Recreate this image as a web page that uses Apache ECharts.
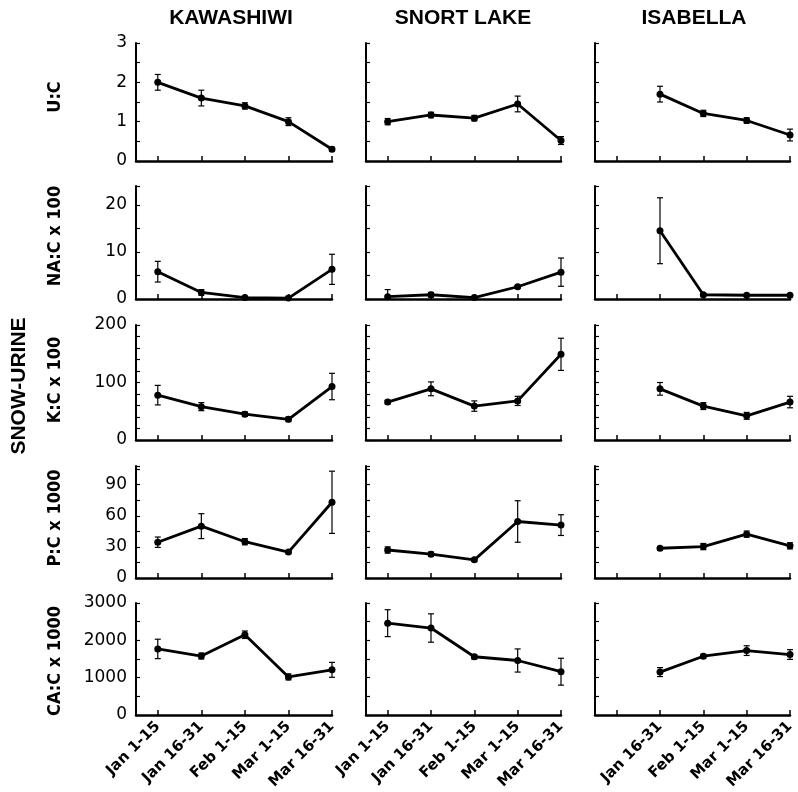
<!DOCTYPE html>
<html><head><meta charset="utf-8">
<script src="https://cdn.jsdelivr.net/npm/echarts@6/dist/echarts.min.js"></script>
<style>html,body{margin:0;padding:0;background:#fff}#c{width:798px;height:792px}</style>
</head><body><div id="c"></div>
<script>
// ---- data ----
const periods = ['Jan 1-15', 'Jan 16-31', 'Feb 1-15', 'Mar 1-15', 'Mar 16-31'];
const sites = ['KAWASHIWI', 'SNORT LAKE', 'ISABELLA'];
const ratios = ['U:C', 'NA:C x 100', 'K:C x 100', 'P:C x 1000', 'CA:C x 1000'];
const sideTitle = 'SNOW-URINE';

const yMax = [3, 24, 200, 108, 3000];
const yTicks = [[0, 0.5, 1, 1.5, 2, 2.5, 3], [0, 5, 10, 15, 20, 24], [0, 20, 40, 60, 80, 100, 120, 140, 160, 180, 200], [0, 15, 30, 45, 60, 75, 90, 105, 108], [0, 500, 1000, 1500, 2000, 2500, 3000]];
const yLabels = [[0, 1, 2, 3], [0, 10, 20], [0, 100, 200], [0, 30, 60, 90], [0, 1000, 2000, 3000]];

// U:C
const kaw_UC = [2.0, 1.6, 1.4, 1.0, 0.3];        const kaw_UC_err = [0.2, 0.2, 0.08, 0.1, 0.05];
const sno_UC = [1.0, 1.17, 1.09, 1.45, 0.52];    const sno_UC_err = [0.08, 0.07, 0.07, 0.2, 0.1];
const isa_UC = [null, 1.7, 1.21, 1.03, 0.66];    const isa_UC_err = [null, 0.2, 0.08, 0.07, 0.15];
// NA:C x 100
const kaw_NA = [5.8, 1.4, 0.3, 0.2, 6.3];        const kaw_NA_err = [2.2, 0.6, 0.2, 0.2, 3.2];
const sno_NA = [0.5, 0.9, 0.3, 2.6, 5.7];        const sno_NA_err = [1.5, 0.5, 0.2, 0.3, 3.0];
const isa_NA = [null, 14.5, 0.9, 0.8, 0.8];      const isa_NA_err = [null, 7.0, 0.3, 0.2, 0.2];
// K:C x 100
const kaw_K = [78, 58, 45, 36, 93];              const kaw_K_err = [17, 7, 4, 4, 23];
const sno_K = [66, 89, 59, 68, 149];             const sno_K_err = [3, 12, 9, 8, 28];
const isa_K = [null, 89, 59, 42, 66];            const isa_K_err = [null, 11, 6, 6, 10];
// P:C x 1000
const kaw_P = [34.5, 50, 35, 25, 73];            const kaw_P_err = [5, 12, 3, 1.5, 30];
const sno_P = [27, 23, 17.5, 54.5, 51];          const sno_P_err = [3, 2, 1.5, 20, 10];
const isa_P = [null, 28.7, 30.3, 42.3, 31];      const isa_P_err = [null, 1.5, 3, 3, 3];
// CA:C x 1000
const kaw_CA = [1770, 1580, 2150, 1020, 1210];   const kaw_CA_err = [260, 80, 100, 80, 200];
const sno_CA = [2460, 2330, 1560, 1460, 1160];   const sno_CA_err = [360, 380, 60, 310, 360];
const isa_CA = [null, 1150, 1575, 1725, 1620];   const isa_CA_err = [null, 120, 50, 130, 130];

const means = [
  [kaw_UC, sno_UC, isa_UC], [kaw_NA, sno_NA, isa_NA], [kaw_K, sno_K, isa_K], [kaw_P, sno_P, isa_P], [kaw_CA, sno_CA, isa_CA]
];
const errs = [
  [kaw_UC_err, sno_UC_err, isa_UC_err], [kaw_NA_err, sno_NA_err, isa_NA_err], [kaw_K_err, sno_K_err, isa_K_err],
  [kaw_P_err, sno_P_err, isa_P_err], [kaw_CA_err, sno_CA_err, isa_CA_err]
];

// ---- layout ----
const colLeft = [136, 366, 595];
const colWidth = [196, 195, 195];
const rowTop = [43, 186, 325, 466, 603];
const rowHeight = [118, 113, 115, 112, 113];
const titleX = [231, 463, 694];
const rowLabelY = [97, 236, 380, 518, 661];

const grids = [], xAxes = [], yAxes = [], series = [], graphics = [];
const labelFont = 'DejaVu Sans';
let idx = 0;
for (let r = 0; r < 5; r++) {
  for (let c = 0; c < 3; c++) {
    grids.push({ left: colLeft[c], top: rowTop[r], width: colWidth[c], height: rowHeight[r], containLabel: false });
    const lastRow = r === 4;
    const labelVals = c === 2 ? [1, 2, 3, 4] : [0, 1, 2, 3, 4];
    xAxes.push({
      type: 'value', gridIndex: idx, min: -0.5, max: 4,
      axisLine: { show: true, onZero: false, lineStyle: { color: '#000', width: 2.5 } },
      axisTick: { show: true, inside: true, length: 5, lineStyle: { color: '#000', width: 1.5 }, customValues: [0, 1, 2, 3, 4] },
      axisLabel: {
        show: lastRow, customValues: labelVals, rotate: 45, margin: 9,
        formatter: v => periods[Math.round(v)] || '',
        color: '#000', fontFamily: labelFont, fontWeight: 'bold', fontSize: 15
      },
      splitLine: { show: false }
    });
    yAxes.push({
      type: 'value', gridIndex: idx, min: 0, max: yMax[r],
      axisLine: { show: true, onZero: false, lineStyle: { color: '#000', width: 2 } },
      axisTick: { show: true, inside: true, length: 4, lineStyle: { color: '#000', width: 1.2 }, customValues: yTicks[r] },
      axisLabel: {
        show: c === 0, customValues: yLabels[r], margin: 9,
        formatter: v => String(v),
        color: '#000', fontFamily: labelFont, fontSize: 17
      },
      splitLine: { show: false }
    });
    const m = means[r][c], e = errs[r][c];
    const lineData = [], errData = [];
    m.forEach((v, i) => {
      if (v === null) return;
      lineData.push([i, v]);
      errData.push([i, Math.max(0, v - e[i]), v + e[i]]);
    });
    series.push({
      type: 'custom', xAxisIndex: idx, yAxisIndex: idx, data: errData, silent: true, z: 3,
      encode: { x: 0, y: [1, 2] },
      renderItem: (params, api) => {
        const x = api.value(0);
        const lo = api.coord([x, api.value(1)]);
        const hi = api.coord([x, api.value(2)]);
        const w = 3;
        const st = { stroke: '#000', lineWidth: 1.2 };
        return {
          type: 'group', children: [
            { type: 'line', shape: { x1: lo[0], y1: lo[1], x2: hi[0], y2: hi[1] }, style: st },
            { type: 'line', shape: { x1: lo[0] - w, y1: lo[1], x2: lo[0] + w, y2: lo[1] }, style: st },
            { type: 'line', shape: { x1: hi[0] - w, y1: hi[1], x2: hi[0] + w, y2: hi[1] }, style: st }
          ]
        };
      }
    });
    series.push({
      type: 'line', xAxisIndex: idx, yAxisIndex: idx, data: lineData, z: 4,
      symbol: 'circle', symbolSize: 7, showSymbol: true,
      lineStyle: { color: '#000', width: 2.8 }, itemStyle: { color: '#000' },
      animation: false, silent: true
    });
    idx++;
  }
}

sites.forEach((s, c) => {
  graphics.push({
    type: 'text', x: titleX[c], y: 18,
    style: { text: s, align: 'center', verticalAlign: 'middle', fill: '#000',
      font: 'bold 21px "Liberation Sans", Arial, sans-serif' }
  });
});
ratios.forEach((t, r) => {
  graphics.push({
    type: 'text', x: 55, y: rowLabelY[r], rotation: Math.PI / 2,
    style: { text: t, align: 'center', verticalAlign: 'middle', fill: '#000',
      font: 'bold 18px "Liberation Sans Narrow", "DejaVu Sans Condensed", sans-serif' }
  });
});
graphics.push({
  type: 'text', x: 19, y: 386, rotation: Math.PI / 2,
  style: { text: sideTitle, align: 'center', verticalAlign: 'middle', fill: '#000',
    font: 'bold 21px "Liberation Sans", Arial, sans-serif' }
});

const chart = echarts.init(document.getElementById('c'), null, { renderer: 'canvas' });
chart.setOption({
  animation: false,
  backgroundColor: '#fff',
  grid: grids, xAxis: xAxes, yAxis: yAxes, series: series,
  graphic: graphics
});
</script></body></html>
